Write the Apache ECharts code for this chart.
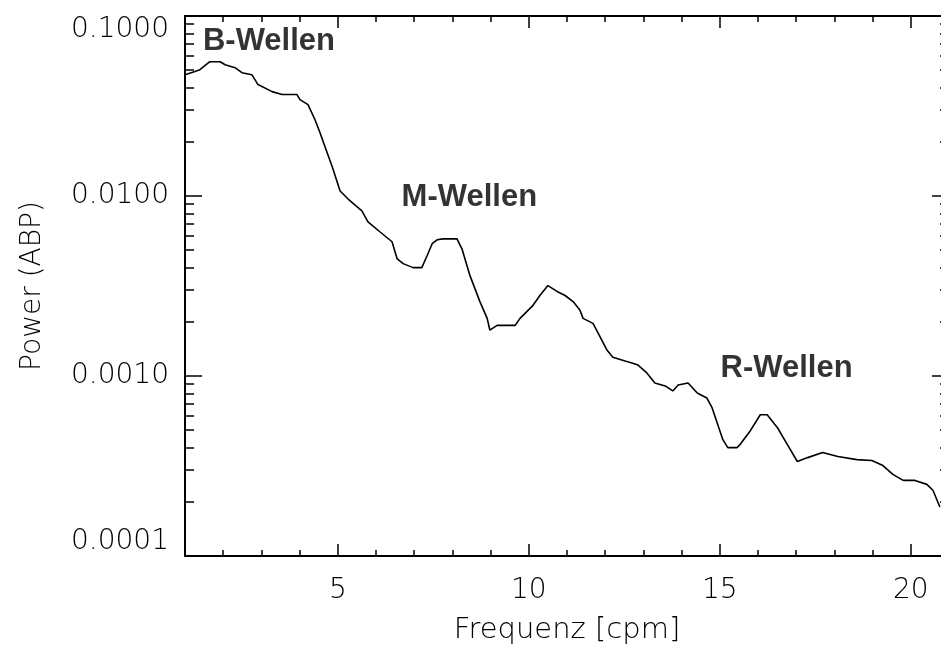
<!DOCTYPE html>
<html>
<head>
<meta charset="utf-8">
<script src="https://cdn.jsdelivr.net/npm/echarts@6/dist/echarts.min.js"></script>
<style>
  html, body { margin: 0; padding: 0; background: #ffffff; overflow: hidden; }
  /* the frame's right border sits just past the visible edge */
  #chart { width: 952px; height: 650px; }
</style>
</head>
<body>
<div id="chart"></div>
<script>
// Power spectrum of arterial blood pressure (ABP)
const frequency = [
  1.00, 1.26, 1.39, 1.65, 1.92, 2.05, 2.31, 2.49, 2.75, 2.91,
  3.28, 3.54, 3.93, 4.01, 4.22, 4.40, 4.53, 4.66, 4.85, 5.06,
  5.27, 5.63, 5.79, 6.10, 6.42, 6.55, 6.71, 6.97, 7.20, 7.34,
  7.47, 7.60, 7.75, 8.12, 8.25, 8.46, 8.72, 8.91, 8.98, 9.17,
  9.64, 9.77, 10.11, 10.29, 10.50, 10.74, 10.95, 11.16, 11.34, 11.42,
  11.68, 11.86, 12.05, 12.20, 12.52, 12.70, 12.86, 13.09, 13.30, 13.57,
  13.77, 13.91, 14.17, 14.41, 14.66, 14.80, 14.93, 15.08, 15.21, 15.45,
  15.53, 15.80, 16.06, 16.24, 16.51, 16.77, 17.03, 17.30, 17.69, 18.09,
  18.59, 18.98, 19.27, 19.53, 19.80, 20.11, 20.42, 20.58, 20.76
];
const power = [
  0.0472, 0.0491, 0.0503, 0.0557, 0.0557, 0.0536, 0.0516, 0.0484, 0.0472, 0.0416,
  0.0380, 0.0366, 0.0366, 0.0343, 0.0322, 0.0266, 0.0226, 0.0189, 0.01465, 0.01066,
  0.00962, 0.00826, 0.00718, 0.00633, 0.00557, 0.00449, 0.00421, 0.00400, 0.00400, 0.00467,
  0.00543, 0.00571, 0.00578, 0.00578, 0.00509, 0.00361, 0.00259, 0.00209, 0.00180, 0.00191,
  0.00191, 0.00209, 0.00247, 0.00280, 0.00318, 0.00295, 0.00280, 0.00259, 0.00232, 0.00209,
  0.00196, 0.00166, 0.00139, 0.00127, 0.00121, 0.00118, 0.00115, 0.00104, 0.000915, 0.000881,
  0.000826, 0.000891, 0.000915, 0.000805, 0.000755, 0.000665, 0.000550, 0.000443, 0.000400, 0.000400,
  0.000416, 0.000497, 0.000609, 0.000609, 0.000516, 0.000416, 0.000335, 0.000352, 0.000376, 0.000357,
  0.000343, 0.000339, 0.000318, 0.000284, 0.000263, 0.000263, 0.000250, 0.000232, 0.000187
];

// Tick positions
const xMajorTicks = [5, 10, 15, 20];
const xMinorTicks = [2, 3, 4, 6, 7, 8, 9, 11, 12, 13, 14, 16, 17, 18, 19, 21];
const yMajorTicks = [0.0001, 0.001, 0.01, 0.1];
const yMinorTicks = [
  0.0002, 0.0003, 0.0004, 0.0005, 0.0006, 0.0007, 0.0008, 0.0009,
  0.002, 0.003, 0.004, 0.005, 0.006, 0.007, 0.008, 0.009,
  0.02, 0.03, 0.04, 0.05, 0.06, 0.07, 0.08, 0.09
];

// Wave band annotations (anchored at left edge / vertical centre)
const waveNames = ['B-Wellen', 'M-Wellen', 'R-Wellen'];
const waveFreq = [1.47, 6.67, 15.02];
const wavePower = [0.0718, 0.00987, 0.001107];

const X_MIN = 1, X_MAX = 21;
const Y_MIN = 0.0001, Y_MAX = 0.1;
const INK = '#000000';
const LABEL_FONT = 'DejaVu Sans';

const spectrum = frequency.map((f, i) => [f, power[i]]);
const annotations = waveNames.map((n, i) => [waveFreq[i], wavePower[i], n]);

function xAxisDef(position, ticks, len, withLabels) {
  return {
    type: 'value', position, min: X_MIN, max: X_MAX,
    axisLine: { show: withLabels || position === 'top', lineStyle: { color: INK, width: 2 } },
    axisTick: { show: true, inside: true, length: len, customValues: ticks,
                lineStyle: { color: INK, width: 1.5 } },
    axisLabel: withLabels ? {
      show: true, customValues: xMajorTicks, margin: 21,
      fontFamily: LABEL_FONT, fontWeight: 200, fontSize: 28, color: INK,
      formatter: v => String(v)
    } : { show: false },
    splitLine: { show: false },
    name: withLabels ? 'Frequenz [cpm]' : '',
    nameLocation: 'middle', nameGap: 60,
    nameTextStyle: { fontFamily: LABEL_FONT, fontWeight: 200, fontSize: 29, color: INK }
  };
}

function yAxisDef(position, ticks, len, withLabels) {
  return {
    type: 'log', logBase: 10, position, min: Y_MIN, max: Y_MAX,
    axisLine: { show: withLabels || position === 'right', lineStyle: { color: INK, width: 2 } },
    axisTick: { show: true, inside: true, length: len, customValues: ticks,
                lineStyle: { color: INK, width: 1.5 } },
    axisLabel: withLabels ? {
      show: true, customValues: yMajorTicks, margin: 16,
      fontFamily: LABEL_FONT, fontWeight: 200, fontSize: 28, color: INK,
      verticalAlignMinLabel: 'bottom', verticalAlignMaxLabel: 'top',
      formatter: v => Number(v).toFixed(4)
    } : { show: false },
    splitLine: { show: false },
    minorTick: { show: false },
    name: withLabels ? 'Power (ABP)' : '',
    nameLocation: 'middle', nameGap: 138,
    nameTextStyle: { fontFamily: LABEL_FONT, fontWeight: 200, fontSize: 28, color: INK }
  };
}

const chart = echarts.init(document.getElementById('chart'), null, { renderer: 'canvas' });
chart.setOption({
  backgroundColor: '#ffffff',
  animation: false,
  grid: { left: 185, right: 3, top: 16, bottom: 92, containLabel: false },
  xAxis: [
    xAxisDef('bottom', xMajorTicks, 12, true),
    xAxisDef('bottom', xMinorTicks, 6, false),
    xAxisDef('top', xMajorTicks, 12, false),
    xAxisDef('top', xMinorTicks, 6, false)
  ],
  yAxis: [
    yAxisDef('left', yMajorTicks, 17, true),
    yAxisDef('left', yMinorTicks, 9, false),
    yAxisDef('right', yMajorTicks, 17, false),
    yAxisDef('right', yMinorTicks, 9, false)
  ],
  series: [
    {
      type: 'line', xAxisIndex: 0, yAxisIndex: 0,
      data: spectrum, showSymbol: false, symbol: 'none', smooth: false,
      lineStyle: { color: INK, width: 1.6 }
    },
    {
      type: 'scatter', xAxisIndex: 0, yAxisIndex: 0,
      data: annotations, symbolSize: 0, silent: true,
      label: {
        show: true, position: 'right', distance: 0,
        align: 'left', verticalAlign: 'middle',
        formatter: p => p.data[2],
        fontFamily: 'Liberation Sans', fontWeight: 'bold', fontSize: 31, color: INK
      }
    }
  ]
});
</script>
</body>
</html>
